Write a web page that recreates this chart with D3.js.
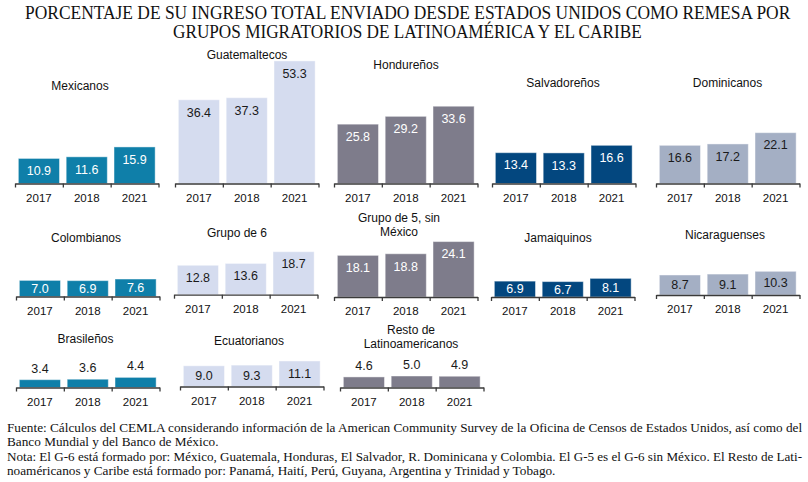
<!DOCTYPE html>
<html><head><meta charset="utf-8">
<script src="https://cdn.jsdelivr.net/npm/d3@7"></script>
<style>
html,body{margin:0;padding:0;background:#fff;}
svg{display:block;}
</style></head>
<body>
<svg id="chart" width="808" height="482"></svg>
<script>
// ---- DATA ----
const titleLines = ["PORCENTAJE DE SU INGRESO TOTAL ENVIADO DESDE ESTADOS UNIDOS COMO REMESA POR",
                    "GRUPOS MIGRATORIOS DE LATINOAMÉRICA Y EL CARIBE"];
const years = ["2017", "2018", "2021"];
const groups = ["Mexicanos", "Guatemaltecos", "Hondureños", "Salvadoreños", "Dominicanos",
                "Colombianos", "Grupo de 6", "Grupo de 5, sin|México", "Jamaiquinos", "Nicaraguenses",
                "Brasileños", "Ecuatorianos", "Resto de|Latinoamericanos"];
const v2017 = [10.9, 36.4, 25.8, 13.4, 16.6, 7.0, 12.8, 18.1, 6.9, 8.7, 3.4, 9.0, 4.6];
const v2018 = [11.6, 37.3, 29.2, 13.3, 17.2, 6.9, 13.6, 18.8, 6.7, 9.1, 3.6, 9.3, 5.0];
const v2021 = [15.9, 53.3, 33.6, 16.6, 22.1, 7.6, 18.7, 24.1, 8.1, 10.3, 4.4, 11.1, 4.9];
const footLines = [
  "Fuente: Cálculos del CEMLA considerando información de la American Community Survey de la Oficina de Censos de Estados Unidos, así como del",
  "Banco Mundial y del Banco de México.",
  "Nota: El G-6 está formado por: México, Guatemala, Honduras, El Salvador, R. Dominicana y Colombia. El G-5 es el G-6 sin México. El Resto de Lati-",
  "noaméricanos y Caribe está formado por: Panamá, Haití, Perú, Guyana, Argentina y Trinidad y Tobago."
];

// ---- STYLE / LAYOUT ----
const palette = ["#0f7fa9", "#d5dcef", "#7e7c8b", "#03477f", "#a4afc4"];
const labelInk = ["#ffffff", "#1a1a1a", "#ffffff", "#ffffff", "#1a1a1a"];
const colorIdx = [0,1,2,3,4, 0,1,2,3,4, 0,1,2];
const panelLeft = [15,175,334,492,656, 16,174,334,491,656, 16,180,340];
const panelAxisY = [183.5,183.5,183.5,183.5,183.5, 296.5,294.7,297,297,295, 387.5,386.5,387.5];
const titleCx = [80,247,406,563,727.5, 86,237,399,558,725, 85.5,249,411];
const titleBase = [90,58.5,69,86.5,86.5, 241.5,236.7,222.3,242,238.5, 343.3,345,334];
const panelW = 143.5;
const pxPerUnit = 2.3;

const svg = d3.select("#chart");
const sans = "'Liberation Sans', Arial, sans-serif";
const serif = "'Liberation Serif', 'Times New Roman', serif";

// fit a text horizontally into [x, x+w] with a scaleX transform
function fitText(sel, x, y, w) {
  sel.attr("x", 0).attr("y", 0);
  const nat = sel.node().getComputedTextLength();
  sel.attr("transform", `translate(${x},${y}) scale(${w / nat},1)`);
}

// Title
const t1 = svg.append("text").attr("font-family", serif).attr("font-size", 18).attr("fill", "#111").text(titleLines[0]);
fitText(t1, 25, 19, 766);
const t2 = svg.append("text").attr("font-family", serif).attr("font-size", 18).attr("fill", "#111").text(titleLines[1]);
fitText(t2, 173, 37.5, 469);

const hScale = d3.scaleLinear().domain([0, 60]).range([0, 60 * pxPerUnit]);

groups.forEach((name, i) => {
  const vals = [v2017[i], v2018[i], v2021[i]];
  const x0 = panelLeft[i], ay = panelAxisY[i];
  const g = svg.append("g");
  const xb = d3.scaleBand().domain(years).range([x0, x0 + panelW]).paddingInner(0.14).paddingOuter(0.07);
  const xt = d3.scaleLinear().domain([0, 3]).range([x0, x0 + panelW]);
  const col = palette[colorIdx[i]];

  // bars
  g.selectAll("rect").data(vals).join("rect")
    .attr("x", (d, j) => xb(years[j]))
    .attr("width", xb.bandwidth())
    .attr("y", d => ay - hScale(d))
    .attr("height", d => hScale(d))
    .attr("fill", col)
    .attr("stroke", "rgba(255,255,255,0.45)")
    .attr("stroke-width", 1);

  // value labels
  g.selectAll("text.val").data(vals).join("text").attr("class", "val")
    .attr("x", (d, j) => xb(years[j]) + xb.bandwidth() / 2)
    .attr("y", d => {
      const h = hScale(d);
      if (d < 6) return ay - h - 7;
      return ay - h + Math.min(12.5, h / 2) + 4.3;
    })
    .attr("text-anchor", "middle")
    .attr("font-family", sans).attr("font-size", 12.5)
    .attr("fill", d => d < 6 ? "#1a1a1a" : labelInk[colorIdx[i]])
    .text(d => d.toFixed(1));

  // axis
  const ax = g.append("g").attr("transform", `translate(0,${ay})`)
    .call(d3.axisBottom(xt).tickValues([0, 1, 2, 3]).tickSizeInner(4).tickSizeOuter(0).tickFormat(""));
  ax.select(".domain").attr("stroke", "#3a3a3a").attr("stroke-width", 1.3);
  ax.selectAll(".tick line").attr("stroke", "#3a3a3a").attr("stroke-width", 1.3);

  // year labels
  g.selectAll("text.yr").data(years).join("text").attr("class", "yr")
    .attr("x", d => xb(d) + xb.bandwidth() / 2)
    .attr("y", ay + 18)
    .attr("text-anchor", "middle")
    .attr("font-family", sans).attr("font-size", 11.5).attr("fill", "#111")
    .text(d => d);

  // panel title
  const lines = name.split("|");
  const t = g.append("text").attr("text-anchor", "middle")
    .attr("font-family", sans).attr("font-size", 12).attr("fill", "#111");
  lines.forEach((ln, k) => {
    t.append("tspan").attr("x", titleCx[i]).attr("y", titleBase[i] + k * 13.8).text(ln);
  });
});

// Footer
const footY = [431.5, 446, 460.5, 475];
const footNodes = footLines.map((ln, k) =>
  svg.append("text").attr("font-family", serif).attr("font-size", 12.8).attr("fill", "#111").text(ln));
const nat0 = footNodes[0].node().getComputedTextLength();
const targetW = 796;
const factor = targetW / nat0;
footNodes.forEach((n, k) => {
  const nat = n.node().getComputedTextLength();
  const w = (k === 0 || k === 2) ? targetW : nat * factor;
  fitText(n, 7, footY[k], w);
});
</script>
</body></html>
